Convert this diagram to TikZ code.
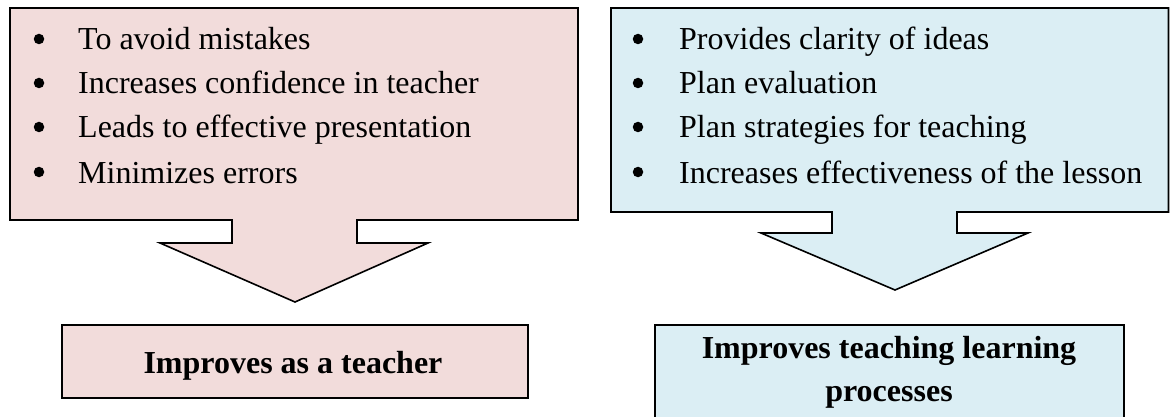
\documentclass[tikz,border=0pt]{standalone}
\usepackage{fontspec}
\setmainfont{Liberation Serif}
\definecolor{pinkfill}{HTML}{F2DCDB}
\definecolor{bluefill}{HTML}{DBEEF4}
\begin{document}
\begin{tikzpicture}[x=1pt,y=-1pt,
  outline/.style={draw=black,line width=1.6pt,line join=miter},
  itemtext/.style={inner sep=0pt,anchor=base west,font=\fontsize{32}{38}\selectfont},
  bul/.style={circle,fill=black,inner sep=0pt,minimum size=10.5pt},
  result/.style={inner sep=0pt,anchor=base,font=\fontsize{32}{44}\selectfont\bfseries}]
\useasboundingbox (0,0) rectangle (1170,417);
\clip (0,0) rectangle (1170,417);
% left: box + arrow outline
\filldraw[outline,fill=pinkfill] (10,8) -- (578,8) -- (578,220) -- (357,220) -- (357,243) -- (428,243) -- (295,302) -- (160,243) -- (232,243) -- (232,220) -- (10,220) -- cycle;
% right: box + arrow outline
\filldraw[outline,fill=bluefill] (611,8) -- (1168.5,8) -- (1168.5,212) -- (957,212) -- (957,233) -- (1028,233) -- (895,290) -- (761,233) -- (832,233) -- (832,212) -- (611,212) -- cycle;
% result boxes
\node[outline,fill=pinkfill,rectangle,minimum width=466pt,minimum height=73pt,inner sep=0pt,anchor=north west] (LR) at (61,324) {};
\node[outline,fill=bluefill,rectangle,minimum width=469pt,minimum height=110pt,inner sep=0pt,anchor=north west] (RR) at (654,324) {};
% left items
\node[bul] (lb1) at (39,39) {};
\node[bul] (lb2) at (39,83) {};
\node[bul] (lb3) at (39,127) {};
\node[bul] (lb4) at (39,172) {};
\node[itemtext] (lt1) at (78,50) {To avoid mistakes};
\node[itemtext] (lt2) at (78,94) {Increases confidence in teacher};
\node[itemtext] (lt3) at (78,138) {Leads to effective presentation};
\node[itemtext] (lt4) at (78,183) {Minimizes errors};
% right items
\node[bul] (rb1) at (638,39) {};
\node[bul] (rb2) at (638,83) {};
\node[bul] (rb3) at (638,127) {};
\node[bul] (rb4) at (638,172) {};
\node[itemtext] (rt1) at (679,50) {Provides clarity of ideas};
\node[itemtext] (rt2) at (679,94) {Plan evaluation};
\node[itemtext] (rt3) at (679,138) {Plan strategies for teaching};
\node[itemtext] (rt4) at (679,183) {Increases effectiveness of the lesson};
% result texts
\node[result] (lres) at (293,373) {Improves as a teacher};
\node[result] (rres1) at (889,358) {Improves teaching learning};
\node[result] (rres2) at (889,401) {processes};
\end{tikzpicture}
\end{document}
